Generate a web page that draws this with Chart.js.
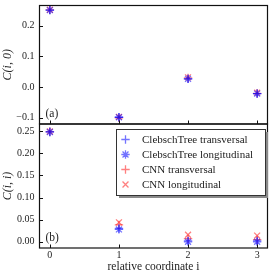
<!DOCTYPE html>
<html><head><meta charset="utf-8">
<script src="https://cdn.jsdelivr.net/npm/chart.js@4.4.1/dist/chart.umd.min.js"></script>
<style>
html,body{margin:0;padding:0;background:#fff;}
#wrap{position:relative;width:273px;height:273px;}
canvas{position:absolute;left:0;top:0;}
</style></head>
<body><div id="wrap"><canvas id="cb" width="273" height="273"></canvas><canvas id="ca" width="273" height="273"></canvas></div>
<script>
const coords = [0, 1, 2, 3];
const seriesNames = ['ClebschTree transversal', 'ClebschTree longitudinal', 'CNN transversal', 'CNN longitudinal'];
// panel (a): C(i,0)
const a_ctTrans = [0.251, -0.098, 0.027, -0.021];
const a_ctLong  = [0.251, -0.098, 0.027, -0.021];
const a_cnnTrans = [0.252, -0.100, 0.030, -0.020];
const a_cnnLong  = [0.252, -0.097, 0.032, -0.018];
// panel (b): C(i,i)
const b_ctTrans = [0.248, 0.030, 0.002, 0.002];
const b_ctLong  = [0.248, 0.028, 0.000, 0.000];
const b_cnnTrans = [0.249, 0.038, 0.007, 0.005];
const b_cnnLong  = [0.249, 0.044, 0.016, 0.014];
const a_yTicks = [-0.1, 0.0, 0.1, 0.2];
const b_yTicks = [0.00, 0.05, 0.10, 0.15, 0.20, 0.25];

const BLUE = 'rgba(0,0,255,0.55)', RED = 'rgba(255,0,0,0.5)';
const styles = [
  {c: BLUE, p: 'cross'}, {c: BLUE, p: 'star'}, {c: RED, p: 'cross'}, {c: RED, p: 'crossRot'}
];
const SERIF = '"Liberation Serif", "DejaVu Serif", serif';

function mkDatasets(arrs){
  return arrs.map((arr,k)=>({
    label: seriesNames[k],
    data: coords.map((x,i)=>({x:x, y:arr[i]})),
    pointStyle: styles[k].p, borderColor: styles[k].c, backgroundColor: styles[k].c,
    pointRadius: 4.2, pointBorderWidth: 1.3, showLine:false
  }));
}
function fmtMinus(s){ return s.replace('-', '\u2212'); }

function marker(ctx, style, x, y, r){
  ctx.beginPath();
  if(style==='cross'||style==='star'){ ctx.moveTo(x-r,y); ctx.lineTo(x+r,y); ctx.moveTo(x,y-r); ctx.lineTo(x,y+r); }
  if(style==='crossRot'||style==='star'){ const d=r*0.7071; ctx.moveTo(x-d,y-d); ctx.lineTo(x+d,y+d); ctx.moveTo(x-d,y+d); ctx.lineTo(x+d,y-d); }
  ctx.stroke();
}

const framePlugin = {
  id:'frame',
  afterDraw(chart, args, opts){
    const ctx = chart.ctx, a = chart.chartArea;
    ctx.save();
    ctx.strokeStyle = '#111'; ctx.lineWidth = 1.2;
    ctx.strokeRect(a.left, a.top, a.right-a.left, a.bottom-a.top);
    ctx.lineWidth = 1;
    const ys = chart.scales.y, xs = chart.scales.x;
    ys.ticks.forEach(t=>{ const py = Math.round(ys.getPixelForValue(t.value))+0.5; ctx.beginPath(); ctx.moveTo(a.left, py); ctx.lineTo(a.left+3.5, py); ctx.stroke(); });
    coords.forEach(v=>{ const px = Math.round(xs.getPixelForValue(v))+0.5; ctx.beginPath(); ctx.moveTo(px, a.bottom); ctx.lineTo(px, a.bottom-3.5); ctx.stroke(); });
    ctx.fillStyle = '#222'; ctx.font = '11.5px ' + SERIF; ctx.textBaseline = 'middle'; ctx.textAlign='left';
    ctx.fillText(opts.tag, a.left + 6, a.bottom - 10);
    if(opts.legend){
      const x0 = 116.5, y0 = 129.5, w = 149, h = 66;
      ctx.fillStyle = '#8a8a8a'; ctx.fillRect(x0+2.5, y0+2.5, w, h);
      ctx.fillStyle = '#fff'; ctx.fillRect(x0, y0, w, h);
      ctx.strokeStyle = '#333'; ctx.lineWidth = 1; ctx.strokeRect(x0, y0, w, h);
      chart.data.datasets.forEach((ds,k)=>{
        const cy = y0 + 10 + 15*k;
        ctx.strokeStyle = ds.borderColor; ctx.lineWidth = 1.3;
        marker(ctx, ds.pointStyle, x0 + 9, cy, 4.2);
        ctx.fillStyle = '#222'; ctx.font = '11px ' + SERIF; ctx.textAlign='left'; ctx.textBaseline='middle';
        ctx.fillText(ds.label, x0 + 25.5, cy + 0.5);
      });
    }
    ctx.restore();
  }
};

const tickFont = {family: SERIF, size: 10};
function common(yMin, yMax, yTicks, digits, title, pad, showX, tag, legend){
  return {
    type:'scatter',
    data:{datasets: []},
    options:{
      responsive:false, animation:false, devicePixelRatio:1,
      layout:{padding: pad},
      plugins:{legend:{display:false}, tooltip:{enabled:false}, frame:{tag:tag, legend:legend}},
      scales:{
        x:{type:'linear', min:-0.15, max:3.15, display: showX,
           grid:{display:false, drawTicks:false}, border:{display:false},
           afterBuildTicks: s=>{ s.ticks = coords.map(v=>({value:v})); },
           afterFit: s=>{ s.height = showX ? 25 : 0; s.paddingLeft = 0; s.paddingRight = 0; },
           ticks:{font:tickFont, color:'#222', padding:1, callback:v=>String(v), maxRotation:0, autoSkip:false},
           title:{display:true, text:'relative coordinate i', font:{family:SERIF, size:11.5, lineHeight:1}, color:'#222', padding:{top:0,bottom:0}}},
        y:{type:'linear', min:yMin, max:yMax,
           grid:{display:false, drawTicks:false}, border:{display:false},
           afterBuildTicks: s=>{ s.ticks = yTicks.map(v=>({value:v})); },
           afterFit: s=>{ s.width = 39.5; s.paddingTop = 0; s.paddingBottom = 0; },
           ticks:{font:tickFont, color:'#222', padding:5, callback:v=>fmtMinus(Number(v).toFixed(digits))},
           title:{display:true, text:title, font:{family:SERIF, size:12, style:'italic'}, color:'#222', padding:{top:1,bottom:0}}}
      }
    },
    plugins:[framePlugin]
  };
}

const cfgA = common(-0.12, 0.266, a_yTicks, 1, 'C(i, 0)', {top:2, right:2, bottom:149, left:0}, false, '(a)', false);
cfgA.data.datasets = mkDatasets([a_ctTrans, a_ctLong, a_cnnTrans, a_cnnLong]);
const cfgB = common(-0.014, 0.266, b_yTicks, 2, 'C(i, i)', {top:124, right:2, bottom:0, left:0}, true, '(b)', true);
cfgB.data.datasets = mkDatasets([b_ctTrans, b_ctLong, b_cnnTrans, b_cnnLong]);

new Chart(document.getElementById('cb'), cfgB);
new Chart(document.getElementById('ca'), cfgA);
</script></body></html>
